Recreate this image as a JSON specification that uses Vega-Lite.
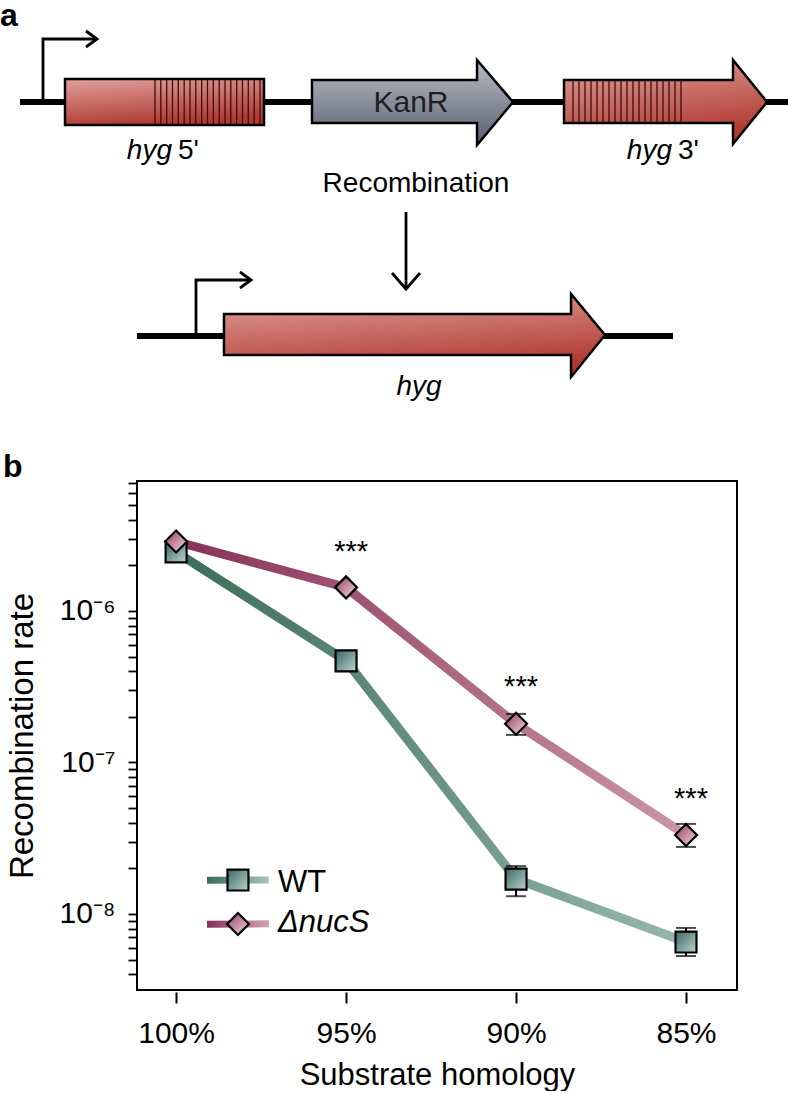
{
  "$schema": "https://vega.github.io/schema/vega-lite/v6.json",
  "padding": 0,
  "background": "white",
  "spacing": 17,
  "config": {"font": "Liberation Sans", "view": {"stroke": null}},
  "datasets": {
    "dna": [{"x": 20, "x2": 788, "y": 100}, {"x": 137, "x2": 673, "y": 334}],
    "genes": [
      {"gene": "hyg5", "x": 65, "top": 77, "bottom": 123},
      {"gene": "hyg5", "x": 264, "top": 77, "bottom": 123},
      {"gene": "KanR", "x": 312, "top": 78, "bottom": 121},
      {"gene": "KanR", "x": 477, "top": 78, "bottom": 121},
      {"gene": "KanR", "x": 477.05, "top": 58, "bottom": 143},
      {"gene": "KanR", "x": 513, "top": 100, "bottom": 100},
      {"gene": "hyg3", "x": 564, "top": 78, "bottom": 121},
      {"gene": "hyg3", "x": 733, "top": 78, "bottom": 121},
      {"gene": "hyg3", "x": 733.05, "top": 58, "bottom": 142},
      {"gene": "hyg3", "x": 767, "top": 100, "bottom": 100},
      {"gene": "hyg", "x": 224, "top": 312, "bottom": 353},
      {"gene": "hyg", "x": 571, "top": 312, "bottom": 353},
      {"gene": "hyg", "x": 571.05, "top": 292, "bottom": 375},
      {"gene": "hyg", "x": 605, "top": 333, "bottom": 333}
    ],
    "stripes": [
      {"x": 155, "y": 78, "y2": 122}, {"x": 160.8, "y": 78, "y2": 122}, {"x": 166.7, "y": 78, "y2": 122},
      {"x": 172.5, "y": 78, "y2": 122}, {"x": 178.3, "y": 78, "y2": 122}, {"x": 184.2, "y": 78, "y2": 122},
      {"x": 190, "y": 78, "y2": 122}, {"x": 195.8, "y": 78, "y2": 122}, {"x": 201.7, "y": 78, "y2": 122},
      {"x": 207.5, "y": 78, "y2": 122}, {"x": 213.3, "y": 78, "y2": 122}, {"x": 219.2, "y": 78, "y2": 122},
      {"x": 225, "y": 78, "y2": 122}, {"x": 230.8, "y": 78, "y2": 122}, {"x": 236.7, "y": 78, "y2": 122},
      {"x": 242.5, "y": 78, "y2": 122}, {"x": 248.3, "y": 78, "y2": 122}, {"x": 254.2, "y": 78, "y2": 122},
      {"x": 260, "y": 78, "y2": 122},
      {"x": 573, "y": 79, "y2": 120}, {"x": 579, "y": 79, "y2": 120}, {"x": 585, "y": 79, "y2": 120},
      {"x": 591, "y": 79, "y2": 120}, {"x": 597, "y": 79, "y2": 120}, {"x": 603, "y": 79, "y2": 120},
      {"x": 609, "y": 79, "y2": 120}, {"x": 615, "y": 79, "y2": 120}, {"x": 621, "y": 79, "y2": 120},
      {"x": 627, "y": 79, "y2": 120}, {"x": 633, "y": 79, "y2": 120}, {"x": 639, "y": 79, "y2": 120},
      {"x": 645, "y": 79, "y2": 120}, {"x": 651, "y": 79, "y2": 120}, {"x": 657, "y": 79, "y2": 120},
      {"x": 663, "y": 79, "y2": 120}, {"x": 669, "y": 79, "y2": 120}, {"x": 675, "y": 79, "y2": 120},
      {"x": 681, "y": 79, "y2": 120}
    ],
    "paths": [
      {"path": "p1", "i": 0, "x": 43, "y": 100}, {"path": "p1", "i": 1, "x": 43, "y": 37}, {"path": "p1", "i": 2, "x": 96, "y": 37},
      {"path": "c1", "i": 0, "x": 86, "y": 29}, {"path": "c1", "i": 1, "x": 97, "y": 37}, {"path": "c1", "i": 2, "x": 86, "y": 45},
      {"path": "p2", "i": 0, "x": 196, "y": 334}, {"path": "p2", "i": 1, "x": 196, "y": 278}, {"path": "p2", "i": 2, "x": 250, "y": 278},
      {"path": "c2", "i": 0, "x": 240, "y": 270}, {"path": "c2", "i": 1, "x": 251, "y": 278}, {"path": "c2", "i": 2, "x": 240, "y": 286},
      {"path": "p3", "i": 0, "x": 406, "y": 210}, {"path": "p3", "i": 1, "x": 406, "y": 286},
      {"path": "c3", "i": 0, "x": 392, "y": 271}, {"path": "c3", "i": 1, "x": 406, "y": 287}, {"path": "c3", "i": 2, "x": 420, "y": 271}
    ],
    "labels": [
      {"role": "bold", "text": "a", "x": 0, "y": 24},
      {"role": "kan", "text": "KanR", "x": 411, "y": 110},
      {"role": "center", "text": "Recombination", "x": 416, "y": 190},
      {"role": "italicR", "text": "hyg", "x": 172, "y": 157},
      {"role": "left", "text": "5'", "x": 178, "y": 157},
      {"role": "italicR", "text": "hyg", "x": 672, "y": 157},
      {"role": "left", "text": "3'", "x": 678, "y": 157},
      {"role": "italicC", "text": "hyg", "x": 419, "y": 393}
    ],
    "pts": [
      {"strain": "WT", "homology": 100, "rate": 2.45e-6},
      {"strain": "WT", "homology": 95, "rate": 4.68e-7},
      {"strain": "WT", "homology": 90, "rate": 1.70e-8},
      {"strain": "WT", "homology": 85, "rate": 6.53e-9},
      {"strain": "ΔnucS", "homology": 100, "rate": 2.87e-6},
      {"strain": "ΔnucS", "homology": 95, "rate": 1.43e-6},
      {"strain": "ΔnucS", "homology": 90, "rate": 1.80e-7},
      {"strain": "ΔnucS", "homology": 85, "rate": 3.32e-8}
    ],
    "err": [
      {"strain": "WT", "homology": 90, "lo": 1.31e-8, "hi": 2.07e-8},
      {"strain": "WT", "homology": 85, "lo": 5.28e-9, "hi": 8.09e-9},
      {"strain": "ΔnucS", "homology": 90, "lo": 1.52e-7, "hi": 2.09e-7},
      {"strain": "ΔnucS", "homology": 85, "lo": 2.77e-8, "hi": 3.93e-8}
    ],
    "stars": [
      {"homology": 95, "rate": 2.14e-6},
      {"homology": 90, "rate": 2.75e-7},
      {"homology": 85, "rate": 5.01e-8}
    ],
    "legLines": [
      {"strain": "WT", "homology": 99.09, "rate": 1.672e-8},
      {"strain": "WT", "homology": 97.27, "rate": 1.678e-8},
      {"strain": "ΔnucS", "homology": 99.09, "rate": 8.57e-9},
      {"strain": "ΔnucS", "homology": 97.27, "rate": 8.61e-9}
    ],
    "legSym": [
      {"strain": "WT", "homology": 98.18, "rate": 1.675e-8},
      {"strain": "ΔnucS", "homology": 98.18, "rate": 8.59e-9}
    ],
    "legText": [
      {"strain": "WT", "label": "WT", "homology": 97.0, "rate": 1.396e-8},
      {"strain": "ΔnucS", "label": "ΔnucS", "homology": 97.0, "rate": 7.6e-9}
    ],
    "panelLabel": [{"label": "b", "homology": 105.09, "rate": 7.66e-6}]
  },
  "vconcat": [
    {
      "width": 600,
      "height": 430,
      "view": {"stroke": null},
      "layer": [
        {
          "data": {"name": "dna"},
          "mark": {"type": "rule", "strokeWidth": 6, "color": "black", "strokeCap": "butt"},
          "encoding": {
            "x": {"field": "x", "type": "quantitative", "scale": {"domain": [137, 737], "nice": false, "zero": false}, "axis": null},
            "x2": {"field": "x2"},
            "y": {"field": "y", "type": "quantitative", "scale": {"domain": [0, 430], "reverse": true, "nice": false, "zero": false}, "axis": null}
          }
        },
        {
          "data": {"name": "genes"},
          "transform": [{"filter": "datum.gene !== 'KanR'"}],
          "mark": {"type": "area", "interpolate": "linear", "stroke": "black", "strokeWidth": 2.5, "strokeJoin": "miter",
            "fill": {"gradient": "linear", "x1": 0, "y1": 0, "x2": 0.3, "y2": 1, "stops": [{"offset": 0, "color": "#e0a29b"}, {"offset": 1, "color": "#b03b33"}]}},
          "encoding": {
            "x": {"field": "x", "type": "quantitative", "scale": {"domain": [137, 737], "nice": false, "zero": false}, "axis": null},
            "y": {"field": "top", "type": "quantitative", "scale": {"domain": [0, 430], "reverse": true, "nice": false, "zero": false}, "axis": null},
            "y2": {"field": "bottom"},
            "detail": {"field": "gene"}
          }
        },
        {
          "data": {"name": "genes"},
          "transform": [{"filter": "datum.gene === 'KanR'"}],
          "mark": {"type": "area", "interpolate": "linear", "stroke": "black", "strokeWidth": 2.5, "strokeJoin": "miter",
            "fill": {"gradient": "linear", "x1": 0, "y1": 0, "x2": 0, "y2": 1, "stops": [{"offset": 0, "color": "#b9bdc8"}, {"offset": 1, "color": "#595e6d"}]}},
          "encoding": {
            "x": {"field": "x", "type": "quantitative", "scale": {"domain": [137, 737], "nice": false, "zero": false}, "axis": null},
            "y": {"field": "top", "type": "quantitative", "scale": {"domain": [0, 430], "reverse": true, "nice": false, "zero": false}, "axis": null},
            "y2": {"field": "bottom"},
            "detail": {"field": "gene"}
          }
        },
        {
          "data": {"name": "stripes"},
          "mark": {"type": "rule", "strokeWidth": 1.3, "color": "#3a0f0c"},
          "encoding": {
            "x": {"field": "x", "type": "quantitative", "scale": {"domain": [137, 737], "nice": false, "zero": false}, "axis": null},
            "y": {"field": "y", "type": "quantitative", "scale": {"domain": [0, 430], "reverse": true, "nice": false, "zero": false}, "axis": null},
            "y2": {"field": "y2"}
          }
        },
        {
          "data": {"name": "paths"},
          "mark": {"type": "line", "strokeWidth": 2.8, "color": "black", "strokeJoin": "miter", "strokeCap": "butt"},
          "encoding": {
            "x": {"field": "x", "type": "quantitative", "scale": {"domain": [137, 737], "nice": false, "zero": false}, "axis": null},
            "y": {"field": "y", "type": "quantitative", "scale": {"domain": [0, 430], "reverse": true, "nice": false, "zero": false}, "axis": null},
            "detail": {"field": "path"},
            "order": {"field": "i", "type": "quantitative"}
          }
        },
        {
          "data": {"name": "labels"},
          "transform": [{"filter": "datum.role === 'bold'"}],
          "mark": {"type": "text", "fontSize": 32, "fontWeight": "bold", "align": "left", "baseline": "alphabetic", "color": "black"},
          "encoding": {
            "x": {"field": "x", "type": "quantitative", "scale": {"domain": [137, 737], "nice": false, "zero": false}, "axis": null},
            "y": {"field": "y", "type": "quantitative", "scale": {"domain": [0, 430], "reverse": true, "nice": false, "zero": false}, "axis": null},
            "text": {"field": "text"}
          }
        },
        {
          "data": {"name": "labels"},
          "transform": [{"filter": "datum.role === 'kan'"}],
          "mark": {"type": "text", "fontSize": 30, "align": "center", "baseline": "alphabetic", "color": "#1e1e22"},
          "encoding": {
            "x": {"field": "x", "type": "quantitative", "scale": {"domain": [137, 737], "nice": false, "zero": false}, "axis": null},
            "y": {"field": "y", "type": "quantitative", "scale": {"domain": [0, 430], "reverse": true, "nice": false, "zero": false}, "axis": null},
            "text": {"field": "text"}
          }
        },
        {
          "data": {"name": "labels"},
          "transform": [{"filter": "datum.role === 'center'"}],
          "mark": {"type": "text", "fontSize": 28, "align": "center", "baseline": "alphabetic", "color": "black"},
          "encoding": {
            "x": {"field": "x", "type": "quantitative", "scale": {"domain": [137, 737], "nice": false, "zero": false}, "axis": null},
            "y": {"field": "y", "type": "quantitative", "scale": {"domain": [0, 430], "reverse": true, "nice": false, "zero": false}, "axis": null},
            "text": {"field": "text"}
          }
        },
        {
          "data": {"name": "labels"},
          "transform": [{"filter": "datum.role === 'italicR'"}],
          "mark": {"type": "text", "fontSize": 28, "fontStyle": "italic", "align": "right", "baseline": "alphabetic", "color": "black"},
          "encoding": {
            "x": {"field": "x", "type": "quantitative", "scale": {"domain": [137, 737], "nice": false, "zero": false}, "axis": null},
            "y": {"field": "y", "type": "quantitative", "scale": {"domain": [0, 430], "reverse": true, "nice": false, "zero": false}, "axis": null},
            "text": {"field": "text"}
          }
        },
        {
          "data": {"name": "labels"},
          "transform": [{"filter": "datum.role === 'left'"}],
          "mark": {"type": "text", "fontSize": 28, "align": "left", "baseline": "alphabetic", "color": "black"},
          "encoding": {
            "x": {"field": "x", "type": "quantitative", "scale": {"domain": [137, 737], "nice": false, "zero": false}, "axis": null},
            "y": {"field": "y", "type": "quantitative", "scale": {"domain": [0, 430], "reverse": true, "nice": false, "zero": false}, "axis": null},
            "text": {"field": "text"}
          }
        },
        {
          "data": {"name": "labels"},
          "transform": [{"filter": "datum.role === 'italicC'"}],
          "mark": {"type": "text", "fontSize": 28, "fontStyle": "italic", "align": "center", "baseline": "alphabetic", "color": "black"},
          "encoding": {
            "x": {"field": "x", "type": "quantitative", "scale": {"domain": [137, 737], "nice": false, "zero": false}, "axis": null},
            "y": {"field": "y", "type": "quantitative", "scale": {"domain": [0, 430], "reverse": true, "nice": false, "zero": false}, "axis": null},
            "text": {"field": "text"}
          }
        }
      ]
    },
    {
      "width": 600,
      "height": 509,
      "view": {"stroke": "black", "strokeWidth": 2},
      "encoding": {
        "x": {
          "field": "homology", "type": "quantitative",
          "scale": {"domain": [83.5, 101.15], "reverse": true, "nice": false, "zero": false},
          "axis": {
            "values": [100, 95, 90, 85], "labelExpr": "datum.value + '%'", "domain": false, "grid": false,
            "tickSize": 11, "tickWidth": 2, "tickColor": "black", "offset": 2,
            "labelFontSize": 30, "labelPadding": 15, "labelColor": "black", "labelFlush": false,
            "title": "Substrate homology", "titleFontSize": 31, "titleFontWeight": "normal", "titleColor": "black", "titlePadding": 12
          }
        },
        "y": {
          "field": "rate", "type": "quantitative",
          "scale": {"type": "log", "domain": [3.15e-9, 7.2e-6], "nice": false},
          "axis": {
            "values": [4e-9, 5e-9, 6e-9, 7e-9, 8e-9, 9e-9, 1e-8, 2e-8, 3e-8, 4e-8, 5e-8, 6e-8, 7e-8, 8e-8, 9e-8, 1e-7, 2e-7, 3e-7, 4e-7, 5e-7, 6e-7, 7e-7, 8e-7, 9e-7, 1e-6, 2e-6, 3e-6, 4e-6, 5e-6, 6e-6, 7e-6],
            "labelExpr": "datum.value == 1e-6 ? '10⁻⁶' : datum.value == 1e-7 ? '10⁻⁷' : datum.value == 1e-8 ? '10⁻⁸' : ''",
            "domain": false, "grid": false, "tickSize": 9, "tickWidth": 1.8, "tickColor": "black",
            "labelFontSize": 30, "labelPadding": 13, "labelColor": "black", "labelOverlap": false, "labelFlush": false,
            "title": "Recombination rate", "titleFontSize": 33, "titleFontWeight": "normal", "titleColor": "black", "titlePadding": 19
          }
        }
      },
      "layer": [
        {
          "data": {"name": "pts"},
          "transform": [{"filter": "datum.strain === 'WT'"}],
          "mark": {"type": "line", "strokeWidth": 9, "strokeJoin": "round",
            "stroke": {"gradient": "linear", "x1": 0, "y1": 0, "x2": 1, "y2": 0, "stops": [{"offset": 0, "color": "#3b6c58"}, {"offset": 1, "color": "#98b9ac"}]}}
        },
        {
          "data": {"name": "pts"},
          "transform": [{"filter": "datum.strain !== 'WT'"}],
          "mark": {"type": "line", "strokeWidth": 9, "strokeJoin": "round",
            "stroke": {"gradient": "linear", "x1": 0, "y1": 0, "x2": 1, "y2": 0, "stops": [{"offset": 0, "color": "#873156"}, {"offset": 1, "color": "#cb96a5"}]}}
        },
        {
          "data": {"name": "legLines"},
          "transform": [{"filter": "datum.strain === 'WT'"}],
          "mark": {"type": "line", "strokeWidth": 7,
            "stroke": {"gradient": "linear", "x1": 0, "y1": 0, "x2": 1, "y2": 0, "stops": [{"offset": 0, "color": "#3b6c58"}, {"offset": 1, "color": "#a6c4b8"}]}}
        },
        {
          "data": {"name": "legLines"},
          "transform": [{"filter": "datum.strain !== 'WT'"}],
          "mark": {"type": "line", "strokeWidth": 7,
            "stroke": {"gradient": "linear", "x1": 0, "y1": 0, "x2": 1, "y2": 0, "stops": [{"offset": 0, "color": "#873156"}, {"offset": 1, "color": "#d2a3b2"}]}}
        },
        {
          "data": {"name": "err"},
          "mark": {"type": "errorbar", "ticks": {"size": 20, "thickness": 2, "color": "black"}, "rule": {"strokeWidth": 2, "color": "black"}},
          "encoding": {
            "y": {"field": "lo", "type": "quantitative"},
            "y2": {"field": "hi"}
          }
        },
        {
          "data": {"name": "pts"},
          "transform": [{"filter": "datum.strain === 'WT'"}],
          "mark": {"type": "point", "shape": "square", "size": 440, "filled": true, "opacity": 1, "stroke": "black", "strokeWidth": 2.2,
            "fill": {"gradient": "linear", "x1": 0, "y1": 0, "x2": 1, "y2": 1, "stops": [{"offset": 0, "color": "#3a6863"}, {"offset": 1, "color": "#bcd3cf"}]}}
        },
        {
          "data": {"name": "legSym"},
          "transform": [{"filter": "datum.strain === 'WT'"}],
          "mark": {"type": "point", "shape": "square", "size": 440, "filled": true, "opacity": 1, "stroke": "black", "strokeWidth": 2.2,
            "fill": {"gradient": "linear", "x1": 0, "y1": 0, "x2": 1, "y2": 1, "stops": [{"offset": 0, "color": "#3a6863"}, {"offset": 1, "color": "#bcd3cf"}]}}
        },
        {
          "data": {"name": "pts"},
          "transform": [{"filter": "datum.strain !== 'WT'"}],
          "mark": {"type": "point", "shape": "diamond", "size": 480, "filled": true, "opacity": 1, "stroke": "black", "strokeWidth": 2.2,
            "fill": {"gradient": "linear", "x1": 0, "y1": 0, "x2": 1, "y2": 1, "stops": [{"offset": 0, "color": "#97385e"}, {"offset": 1, "color": "#f3dde5"}]}}
        },
        {
          "data": {"name": "legSym"},
          "transform": [{"filter": "datum.strain !== 'WT'"}],
          "mark": {"type": "point", "shape": "diamond", "size": 480, "filled": true, "opacity": 1, "stroke": "black", "strokeWidth": 2.2,
            "fill": {"gradient": "linear", "x1": 0, "y1": 0, "x2": 1, "y2": 1, "stops": [{"offset": 0, "color": "#97385e"}, {"offset": 1, "color": "#f3dde5"}]}}
        },
        {
          "data": {"name": "stars"},
          "mark": {"type": "text", "text": "***", "fontSize": 29, "align": "center", "baseline": "alphabetic", "dx": 5, "color": "black"}
        },
        {
          "data": {"name": "legText"},
          "transform": [{"filter": "datum.strain === 'WT'"}],
          "mark": {"type": "text", "fontSize": 31, "align": "left", "baseline": "alphabetic", "color": "black"},
          "encoding": {"text": {"field": "label"}}
        },
        {
          "data": {"name": "legText"},
          "transform": [{"filter": "datum.strain !== 'WT'"}],
          "mark": {"type": "text", "fontSize": 31, "fontStyle": "italic", "align": "left", "baseline": "alphabetic", "color": "black"},
          "encoding": {"text": {"field": "label"}}
        },
        {
          "data": {"name": "panelLabel"},
          "mark": {"type": "text", "fontSize": 32, "fontWeight": "bold", "align": "left", "baseline": "alphabetic", "color": "black"},
          "encoding": {"text": {"field": "label"}}
        }
      ]
    }
  ]
}
